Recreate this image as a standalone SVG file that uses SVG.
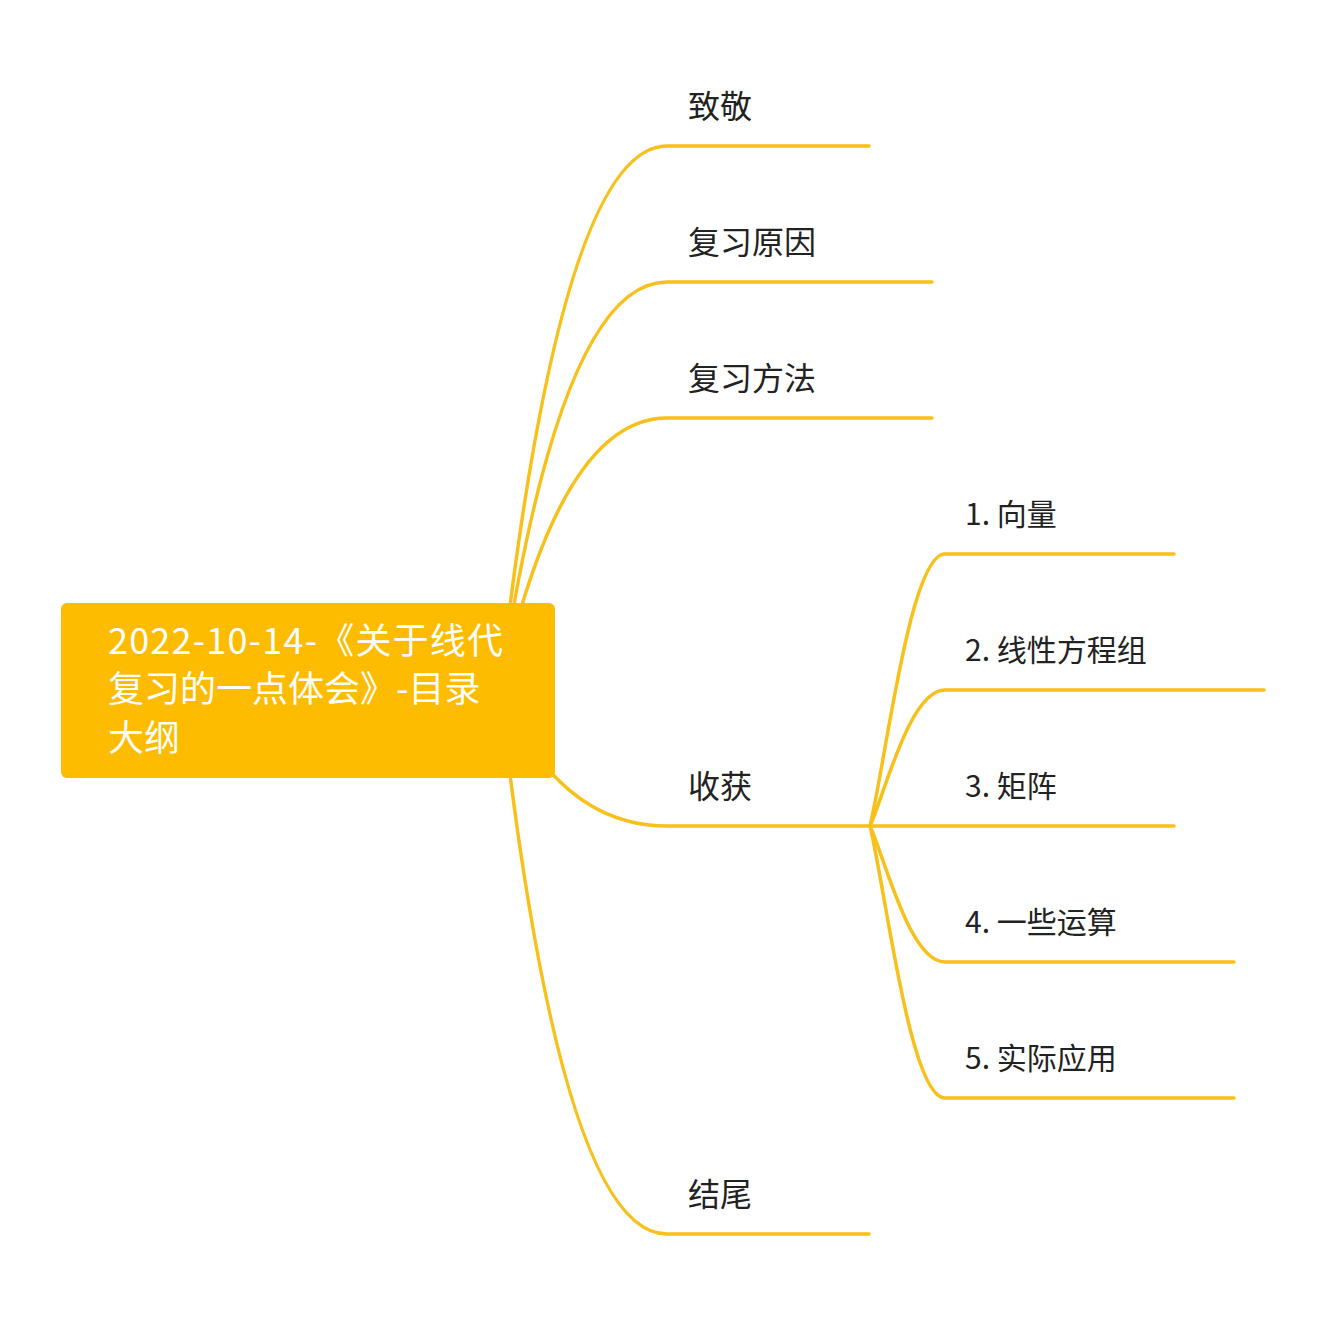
<svg xmlns="http://www.w3.org/2000/svg" width="1342" height="1324" viewBox="0 0 1342 1324">
<style>
.ln{fill:none;stroke:#F7C01A;stroke-width:3.5;stroke-linecap:round}
.t{font-family:"Noto Sans CJK SC","Noto Sans",sans-serif;fill:#222}
.m{font-size:32px}
.s{font-size:30px}
.r{font-family:"Noto Sans CJK SC","Noto Sans",sans-serif;font-size:36px;fill:#ffffff}
</style>
<rect width="1342" height="1324" fill="#ffffff"/>
<g id="connectors">
<path class="ln" d="M500 690.5 Q560 146 667 146 H869"/>
<path class="ln" d="M500 690.5 Q560 282 667 282 H932"/>
<path class="ln" d="M500 690.5 Q560 418 667 418 H932"/>
<path class="ln" d="M500 690.5 Q560 826 667 826 H869"/>
<path class="ln" d="M500 690.5 Q560 1234 667 1234 H869"/>
<path class="ln" d="M870 826 C886 760 910 554 945 554 H1174"/>
<path class="ln" d="M870 826 C886 790 910 690 945 690 H1264"/>
<path class="ln" d="M870 826 H1174"/>
<path class="ln" d="M870 826 C886 862 910 962 945 962 H1234"/>
<path class="ln" d="M870 826 C886 892 910 1098 945 1098 H1234"/>
</g>
<g id="root">
<rect x="61" y="603" width="494" height="175" rx="6" fill="#FDBC00"/>
<text class="r" x="108" y="654" textLength="395" lengthAdjust="spacing">2022-10-14-《关于线代</text>
<text class="r" x="108" y="702">复习的一点体会》-目录</text>
<text class="r" x="108" y="751">大纲</text>
</g>
<g id="n-zhijing"><text class="t m" x="688" y="118">致敬</text></g>
<g id="n-yuanyin"><text class="t m" x="688" y="254">复习原因</text></g>
<g id="n-fangfa"><text class="t m" x="688" y="390">复习方法</text></g>
<g id="n-shouhuo"><text class="t m" x="688" y="798">收获</text></g>
<g id="n-jiewei"><text class="t m" x="688" y="1206">结尾</text></g>
<g id="n-s1"><text class="t s" x="965" y="525">1. 向量</text></g>
<g id="n-s2"><text class="t s" x="965" y="661">2. 线性方程组</text></g>
<g id="n-s3"><text class="t s" x="965" y="797">3. 矩阵</text></g>
<g id="n-s4"><text class="t s" x="965" y="933">4. 一些运算</text></g>
<g id="n-s5"><text class="t s" x="965" y="1069">5. 实际应用</text></g>
</svg>
